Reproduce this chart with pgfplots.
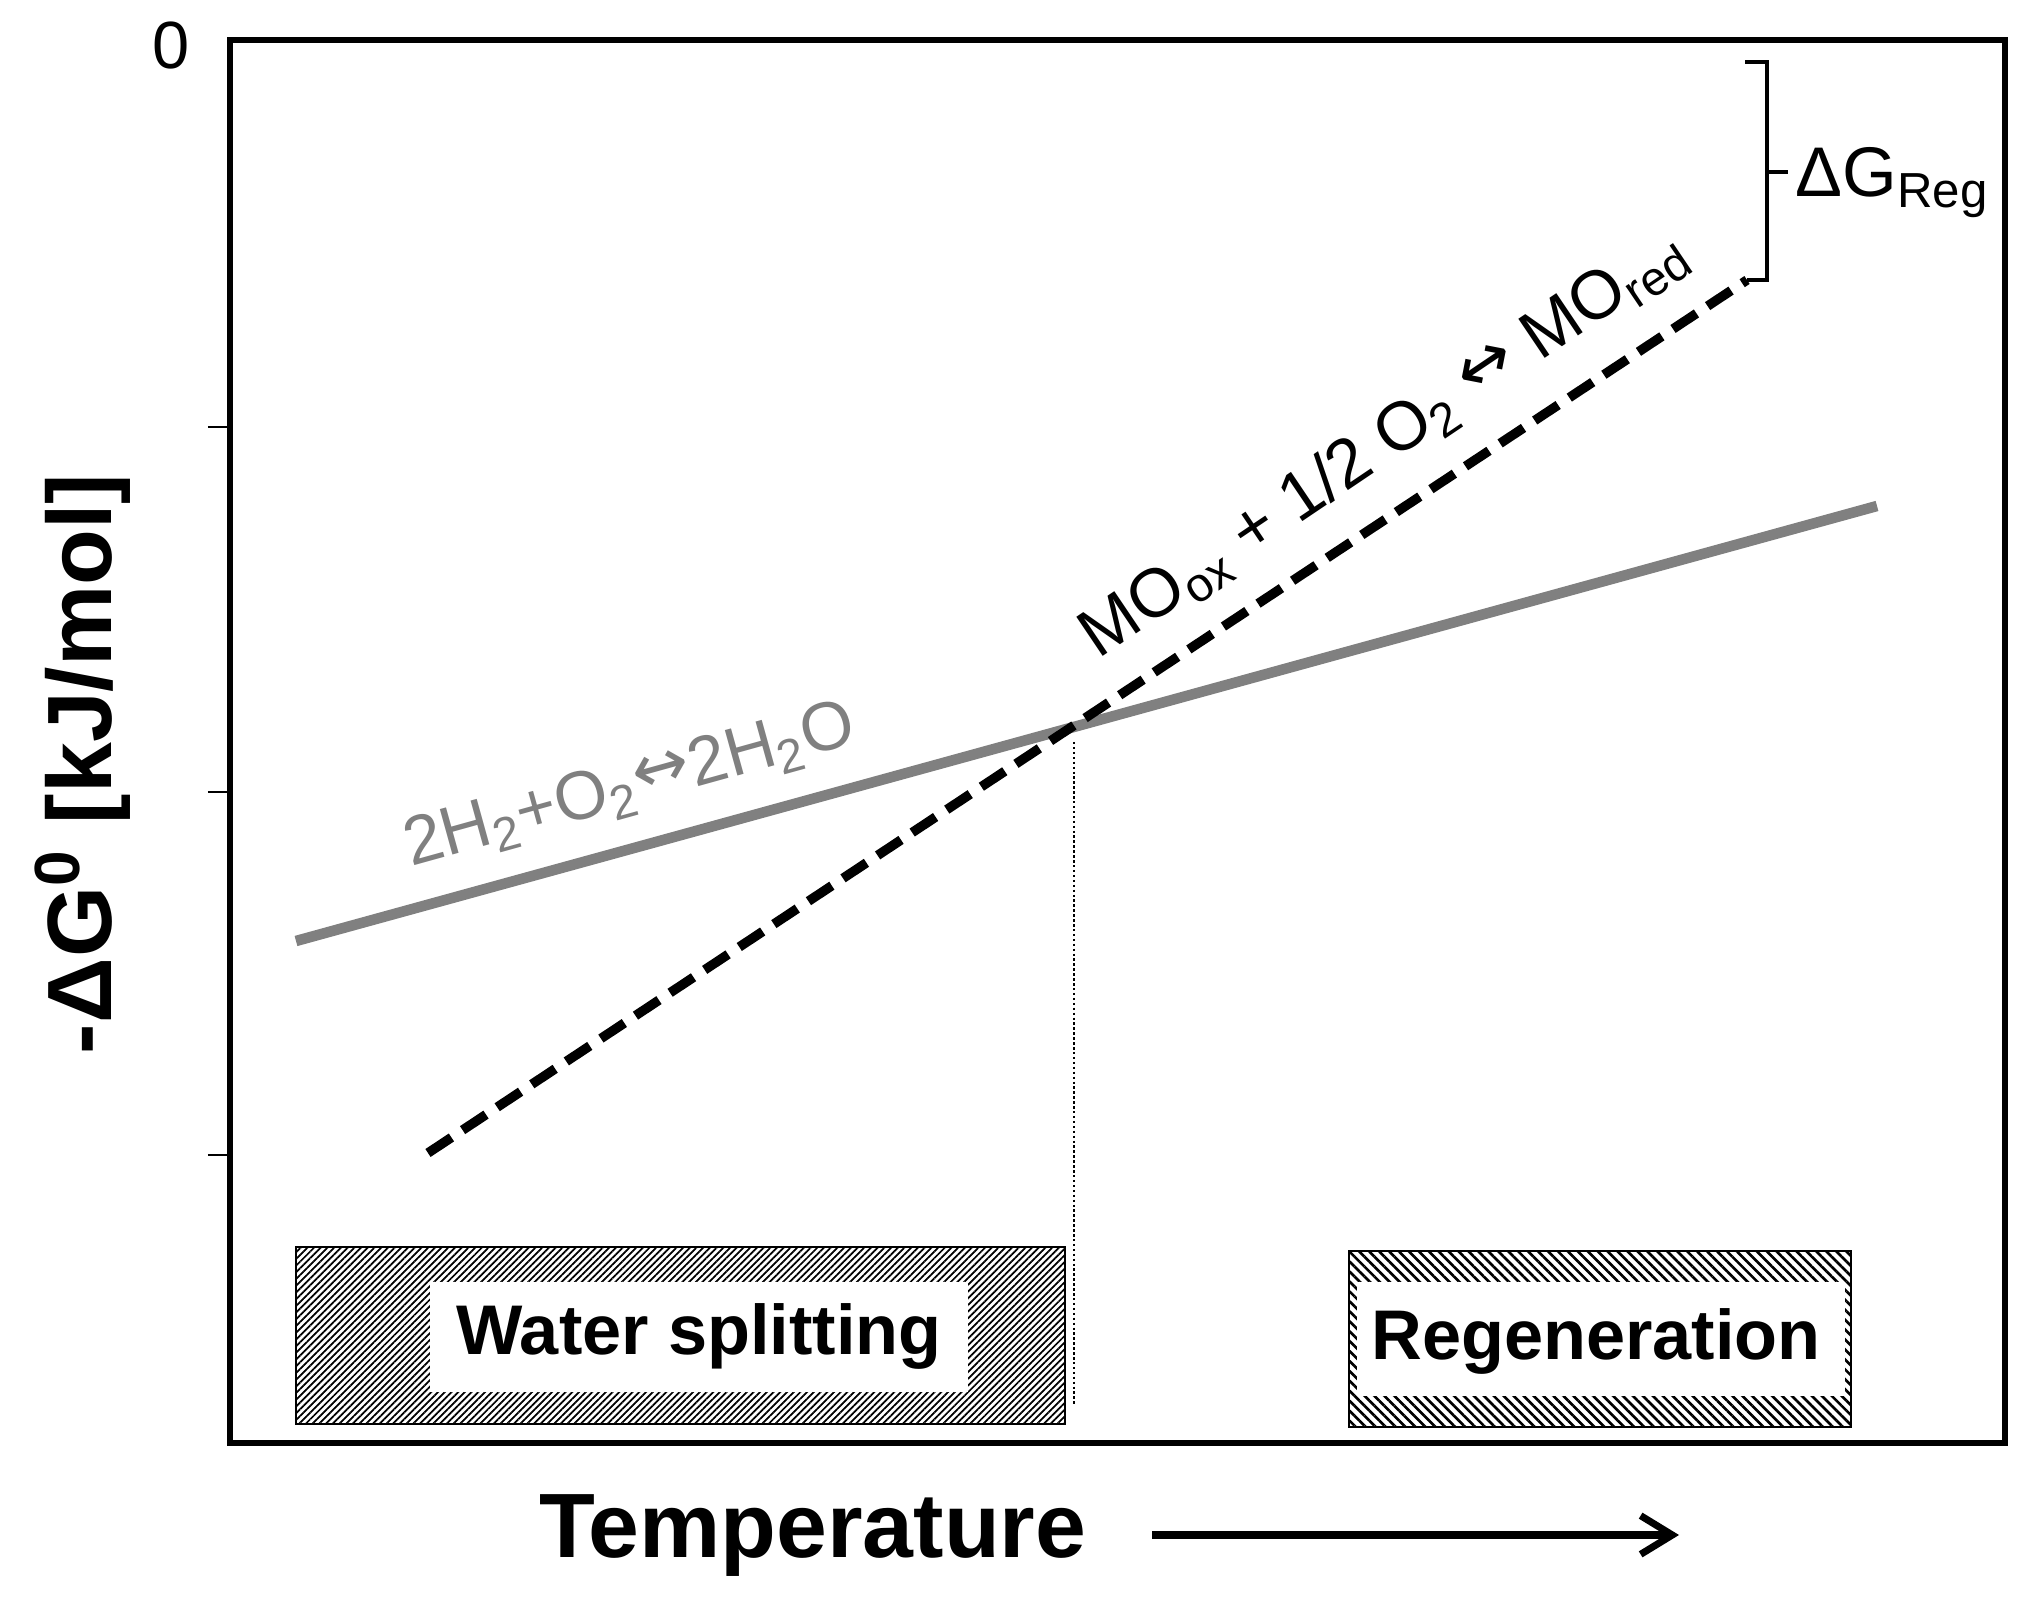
\documentclass[border=0pt]{standalone}
\usepackage{pgfplots}
\pgfplotsset{compat=1.18}
\usepackage{fontspec}
\setmainfont{Liberation Sans}
\newfontfamily\dejavu{DejaVu Sans}
\usetikzlibrary{patterns.meta,arrows.meta}
\definecolor{lgray}{RGB}{128,128,128}
\newcommand{\fsz}[1]{\fontsize{#1}{#1}\selectfont}
\newcommand{\harr}{{\dejavu\raisebox{0.1em}{↔}}}

\begin{document}
\begin{tikzpicture}
\begin{axis}[
  scale only axis, width=17.75cm, height=14.03cm,
  xmin=230, xmax=2005, ymin=-1443, ymax=-40,
  axis line style={line width=1.6pt},
  xtick=\empty, ytick={-1155,-792,-427}, yticklabels={},
  ytick pos=left, tick align=outside, major tick length=0.22cm,
  tick style={line width=0.8pt, black},
  clip=false,
]
% Water splitting box
\addplot[draw=black, line width=0.7pt, pattern={Lines[angle=45,distance=1.35pt,line width=0.5pt]}]
  coordinates {(296,-1247) (1065,-1247) (1065,-1424) (296,-1424)} --cycle;
\addplot[fill=white, draw=none]
  coordinates {(430,-1282) (968,-1282) (968,-1392) (430,-1392)} --cycle;
% Regeneration box
\addplot[draw=black, line width=0.7pt, pattern={Lines[angle=-45,distance=2pt,line width=0.75pt]}]
  coordinates {(1349,-1251) (1851,-1251) (1851,-1427) (1349,-1427)} --cycle;
\addplot[fill=white, draw=none]
  coordinates {(1357,-1282) (1845,-1282) (1845,-1396) (1357,-1396)} --cycle;
% dotted vertical
\addplot[black, line width=0.6pt, dash pattern=on 0.7pt off 0.7pt]
  coordinates {(1074,-742) (1074,-1405)};
% water line
\addplot[lgray, line width=3pt] coordinates {(296,-941) (1877,-506)};
% metal oxide line
\addplot[black, line width=2.7pt, dash pattern=on 8pt off 3.8pt]
  coordinates {(428,-1153) (1747,-280)};
% bracket
\addplot[black, line width=1.2pt] coordinates {(1745,-62) (1767,-62) (1767,-280) (1747,-280)};
\addplot[black, line width=1.2pt] coordinates {(1767,-172) (1788,-172)};
% temperature arrow
\addplot[black, line width=2pt, -{Straight Barb[length=9pt,width=11pt]}]
  coordinates {(1152,-1535) (1679,-1535)};

\node[font=\fsz{26}\bfseries, anchor=base] at (axis cs:813,-1557) {Temperature};
\node[font=\fsz{26}\bfseries, rotate=90] at (axis cs:83,-764) {-ΔG\textsuperscript{0} [kJ/mol]};
\node[font=\fsz{19}] at (axis cs:171,-46) {0};
\node[font=\fsz{20}, anchor=base west, inner sep=0pt] at (axis cs:1795,-197) {ΔG\textsubscript{Reg}};
\node[font=\fsz{20}\bfseries] at (axis cs:699,-1336) {Water splitting};
\node[font=\fsz{20}\bfseries] at (axis cs:1596,-1341) {Regeneration};
\node[text=lgray, font=\fsz{19.5}, rotate=15.5] at (axis cs:630,-787)
  {2H\textsubscript{2}+O\textsubscript{2}\harr 2H\textsubscript{2}O};
\node[font=\fsz{19.5}, rotate=34] at (axis cs:1384,-444)
  {MO\textsubscript{ox} + 1/2 O\textsubscript{2} \harr\ MO\textsubscript{red}};

\coordinate (BL) at (axis cs:0,-1602);
\coordinate (TR) at (axis cs:2030,0);
\end{axis}
\pgfresetboundingbox
\path (BL) rectangle (TR);
\end{tikzpicture}
\end{document}
